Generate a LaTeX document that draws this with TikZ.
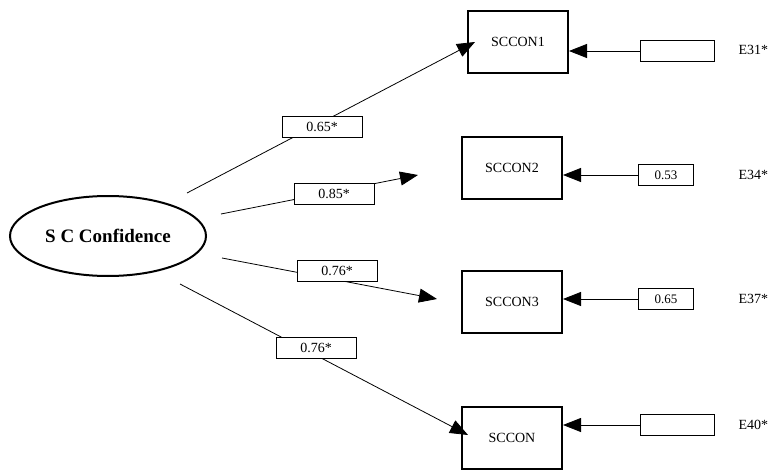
\documentclass[tikz,border=0pt]{standalone}
\usepackage{fontspec}
\setmainfont{Liberation Serif}
\usetikzlibrary{arrows.meta,shapes.geometric}
\begin{document}
\begin{tikzpicture}[x=1pt,y=-1pt,font=\rmfamily,
 big/.style={draw,line width=2pt,minimum width=100pt,minimum height=62pt,font=\rmfamily\fontsize{14}{16}\selectfont},
 lab/.style={draw,fill=white,line width=0.6pt,minimum width=80pt,minimum height=21pt,font=\rmfamily\fontsize{14}{16}\selectfont,inner sep=1pt},
 err/.style={draw,line width=0.6pt,minimum height=21pt,font=\rmfamily\fontsize{13}{15}\selectfont,inner sep=1pt},
 etxt/.style={font=\rmfamily\fontsize{14}{16}\selectfont,anchor=west},
 arr/.style={line width=0.8pt,-{Triangle[length=18pt,width=14pt]}}]
\useasboundingbox (0,0) rectangle (784,476);
\node[draw,ellipse,line width=2pt,minimum width=196pt,minimum height=80pt,font=\rmfamily\bfseries\fontsize{19}{21}\selectfont] (sc) at (108,236) {S C Confidence};
\node[big] (b1) at (518,42) {SCCON1};
\node[big] (b2) at (512,168) {SCCON2};
\node[big] (b3) at (512,302) {SCCON3};
\node[big] (b4) at (512,438) {SCCON};
\coordinate (s1) at (187,193);
\coordinate (s2) at (221,214);
\coordinate (s3) at (222,258);
\coordinate (s4) at (180,284);
\draw[arr] (s1) -- (475,42) coordinate (t1);
\draw[arr] (s2) -- (418,175);
\draw[arr] (s3) -- (437,299);
\draw[arr] (s4) -- (468,435);
\node[lab] (l1) at (322,127) {0.65*};
\node[lab] (l2) at (334,194) {0.85*};
\node[lab] (l3) at (337,271) {0.76*};
\node[lab] (l4) at (316,348) {0.76*};
\node[err,minimum width=74pt] (e1) at (677,51) {};
\node[err,minimum width=55pt] (e2) at (666,175) {0.53};
\node[err,minimum width=55pt] (e3) at (666,299) {0.65};
\node[err,minimum width=74pt] (e4) at (677,425) {};
\draw[arr] (e1.west) -- (b1.east|-e1.west);
\draw[arr] (e2.west) -- (b2.east|-e2.west);
\draw[arr] (e3.west) -- (b3.east|-e3.west);
\draw[arr] (e4.west) -- (b4.east|-e4.west);
\node[etxt] (n1) at (735,50) {E31*};
\node[etxt] (n2) at (735,175) {E34*};
\node[etxt] (n3) at (735,299) {E37*};
\node[etxt] (n4) at (735,425) {E40*};
\end{tikzpicture}
\end{document}
